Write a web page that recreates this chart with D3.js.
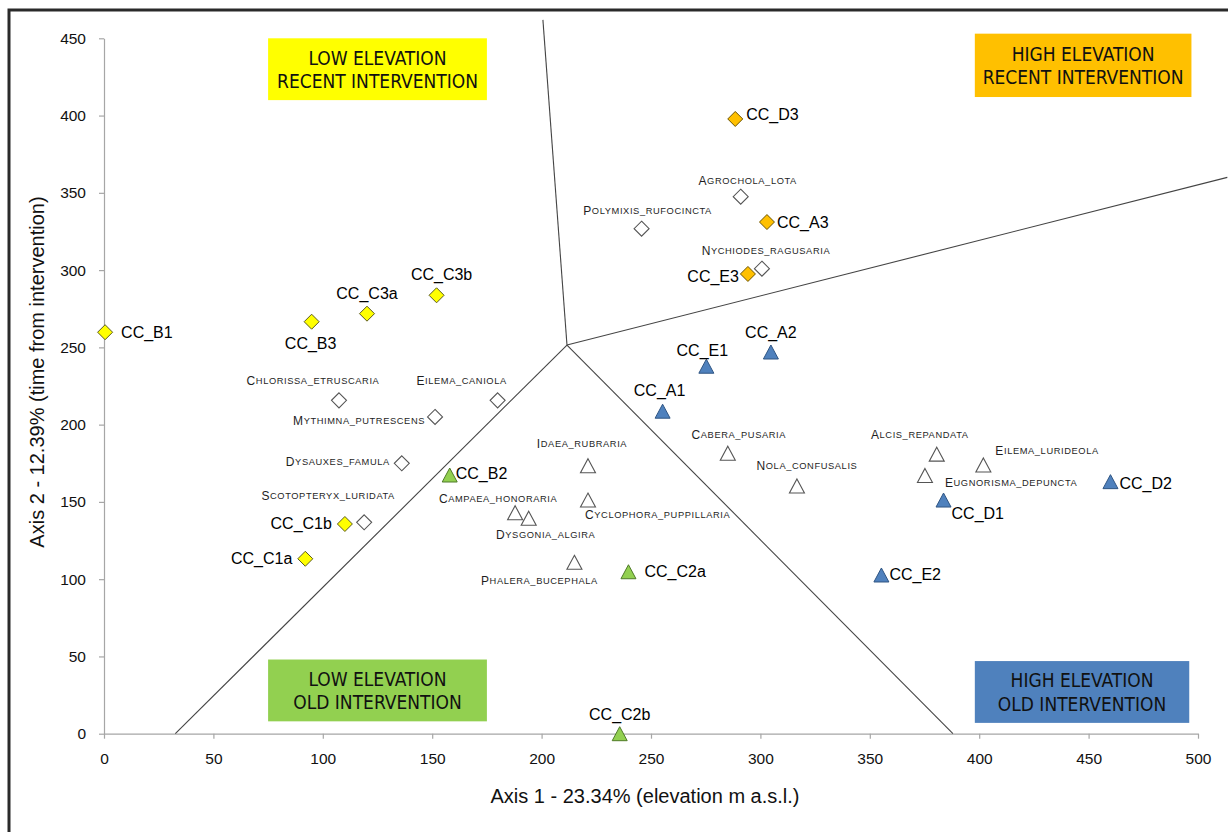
<!DOCTYPE html>
<html>
<head>
<meta charset="utf-8">
<script src="https://cdn.jsdelivr.net/npm/d3@7/dist/d3.min.js"></script>
<style>
  html, body { margin: 0; padding: 0; background: #fff; }
  svg { display: block; }
</style>
</head>
<body>
<svg id="chart" width="1228" height="832"></svg>
<script>
// ---- sampling sites (ordination scores) ----
const siteNames = ["CC_B1","CC_B3","CC_C3a","CC_C3b","CC_C1b","CC_C1a",
                   "CC_D3","CC_A3","CC_E3",
                   "CC_A2","CC_E1","CC_A1","CC_D1","CC_D2","CC_E2",
                   "CC_B2","CC_C2a","CC_C2b"];
const siteAxis1 = [0.5, 94.9, 120.2, 152.0, 110.1, 92.0,
                   288.5, 303.0, 294.3,
                   304.8, 275.3, 255.3, 383.7, 460.0, 355.3,
                   158.0, 239.7, 235.7];
const siteAxis2 = [259.8, 266.6, 271.8, 283.7, 135.7, 113.2,
                   397.8, 331.1, 297.5,
                   247.0, 237.8, 208.7, 151.2, 163.1, 102.7,
                   167.4, 104.8, 0];
const siteGroup = ["LR","LR","LR","LR","LR","LR",
                   "HR","HR","HR",
                   "HO","HO","HO","HO","HO","HO",
                   "LO","LO","LO"];

// ---- indicator species ----
const speciesNames = ["Chlorissa_etruscaria","Eilema_caniola","Mythimna_putrescens",
                      "Dysauxes_famula","Scotopteryx_luridata",
                      "Polymixis_rufocincta","Agrochola_lota","Nychiodes_ragusaria",
                      "Idaea_rubraria","Cyclophora_puppillaria","Campaea_honoraria",
                      "Dysgonia_algira","Phalera_bucephala",
                      "Cabera_pusaria","Nola_confusalis","Alcis_repandata",
                      "Eugnorisma_depuncta","Eilema_lurideola"];
const speciesAxis1 = [107.4, 179.9, 151.3, 136.1, 118.9,
                      245.7, 291.0, 300.7,
                      221.2, 221.2, 187.9, 194.1, 215.0,
                      285.1, 316.7, 380.6, 375.2, 401.9];
const speciesAxis2 = [215.7, 215.7, 205.0, 175.0, 136.8,
                      326.8, 347.5, 300.9,
                      173.4, 151.2, 143.0, 139.4, 110.9,
                      181.5, 160.3, 180.9, 167.1, 173.9];
const speciesShape = ["diamond","diamond","diamond","diamond","diamond",
                      "diamond","diamond","diamond",
                      "triangle","triangle","triangle","triangle","triangle",
                      "triangle","triangle","triangle","triangle","triangle"];

// ---- axis ticks ----
const xTicks = [0, 50, 100, 150, 200, 250, 300, 350, 400, 450, 500];
const yTicks = [0, 50, 100, 150, 200, 250, 300, 350, 400, 450];

// ---- group boundaries (ordination space) ----
const boundaryCentre = [211.6, 251.5];
const boundaryEnds = [[200.6, 461.9], [513.4, 360.0], [32.6, 0], [388.0, 0]];

// ---- group legends ----
const groupKeys = ["LR", "HR", "LO", "HO"];
const groupTitles = [["LOW ELEVATION", "RECENT INTERVENTION"],
                     ["HIGH ELEVATION", "RECENT INTERVENTION"],
                     ["LOW ELEVATION", "OLD INTERVENTION"],
                     ["HIGH ELEVATION", "OLD INTERVENTION"]];
const groupBoxX = [[75, 175], [398, 497], [75, 175], [398, 496]];
const groupBoxY = [[410, 450], [412, 453], [8, 48], [7, 47]];

// ---- styling ----
const groupFill   = { LR: "#FFFF00", HR: "#FFC000", LO: "#92D050", HO: "#4F81BD" };
const groupStroke = { LR: "#5a5a20", HR: "#6b5200", LO: "#4f7a28", HO: "#2f5583" };
const groupShape  = { LR: "diamond", HR: "diamond", LO: "triangle", HO: "triangle" };

// label placement: [dx, dy, anchor]
const siteLabelPos = {
  CC_B1: [16, 0, "start"], CC_B3: [-1, 22, "middle"], CC_C3a: [0, -20, "middle"],
  CC_C3b: [5, -21, "middle"], CC_C1b: [-13, 0, "end"], CC_C1a: [-13, 0, "end"],
  CC_D3: [11, -4, "start"], CC_A3: [10, 0, "start"], CC_E3: [-9, 3, "end"],
  CC_A2: [0, -20, "middle"], CC_E1: [-4, -16, "middle"], CC_A1: [-3, -21, "middle"],
  CC_D1: [8, 13, "start"], CC_D2: [9, 2, "start"], CC_E2: [8, 0, "start"],
  CC_B2: [6, -2, "start"], CC_C2a: [16, 0, "start"], CC_C2b: [0, -19, "middle"]
};
const speciesLabelPos = {
  Chlorissa_etruscaria: [-26, -19, "middle"], Eilema_caniola: [-36, -19, "middle"],
  Mythimna_putrescens: [-10, 4, "end"], Dysauxes_famula: [-12, -1, "end"],
  Scotopteryx_luridata: [-36, -26, "middle"], Polymixis_rufocincta: [6, -18, "middle"],
  Agrochola_lota: [7, -16, "middle"], Nychiodes_ragusaria: [4, -18, "middle"],
  Idaea_rubraria: [-6, -22, "middle"], Cyclophora_puppillaria: [-3, 15, "start"],
  Campaea_honoraria: [-17, -14, "middle"], Dysgonia_algira: [17, 17, "middle"],
  Phalera_bucephala: [-35, 19, "middle"], Cabera_pusaria: [11, -18, "middle"],
  Nola_confusalis: [10, -20, "middle"], Alcis_repandata: [-17, -19, "middle"],
  Eugnorisma_depuncta: [20, 8, "start"], Eilema_lurideola: [12, -14, "start"]
};

const svg = d3.select("#chart");
const W = 1228, H = 832;

const x = d3.scaleLinear().domain([0, 500]).range([104, 1198]);
const y = d3.scaleLinear().domain([0, 450]).range([733.7, 38.3]);

// outer frame (top and left edges)
svg.append("path")
  .attr("d", `M9,${H} L9,10 L${W},10`)
  .attr("fill", "none").attr("stroke", "#2a2a2a").attr("stroke-width", 3);

// axes
const axisFont = "Arial, 'Liberation Sans', sans-serif";
const gx = svg.append("g").attr("transform", `translate(0,${y(0)})`)
  .call(d3.axisBottom(x).tickValues(xTicks).tickSize(5).tickPadding(14).tickSizeOuter(0));
const gy = svg.append("g").attr("transform", `translate(${x(0)},0)`)
  .call(d3.axisLeft(y).tickValues(yTicks).tickSize(5).tickPadding(13).tickSizeOuter(0));
[gx, gy].forEach(g => {
  g.select(".domain").attr("stroke", "#a6a6a6").attr("stroke-width", 1.2);
  g.selectAll(".tick line").attr("stroke", "#a6a6a6").attr("stroke-width", 1.2);
  g.selectAll(".tick text").attr("fill", "#111").style("font-family", axisFont).style("font-size", "15.5px");
});

// axis titles
svg.append("text")
  .attr("x", 645).attr("y", 796).attr("text-anchor", "middle").attr("dominant-baseline", "central")
  .style("font-family", axisFont).style("font-size", "20px").attr("fill", "#111")
  .text("Axis 1 - 23.34% (elevation m a.s.l.)");
svg.append("text")
  .attr("transform", "translate(37,372) rotate(-90)")
  .attr("text-anchor", "middle").attr("dominant-baseline", "central")
  .style("font-family", axisFont).style("font-size", "20px").attr("fill", "#111")
  .text("Axis 2 - 12.39% (time from intervention)");

// group boundary lines
boundaryEnds.forEach(e => {
  svg.append("line")
    .attr("x1", x(boundaryCentre[0])).attr("y1", y(boundaryCentre[1]))
    .attr("x2", x(e[0])).attr("y2", y(e[1]))
    .attr("stroke", "#444").attr("stroke-width", 1.1);
});

// group legend boxes
const boxFont = "'Liberation Sans Narrow', 'Arial Narrow', 'DejaVu Sans Condensed', sans-serif";
groupKeys.forEach((k, i) => {
  const x0 = x(groupBoxX[i][0]), x1 = x(groupBoxX[i][1]);
  const y0 = y(groupBoxY[i][1]), y1 = y(groupBoxY[i][0]);
  svg.append("rect").attr("x", x0).attr("y", y0).attr("width", x1 - x0).attr("height", y1 - y0)
    .attr("fill", groupFill[k]);
  const cx = (x0 + x1) / 2, cy = (y0 + y1) / 2;
  groupTitles[i].forEach((line, j) => {
    svg.append("text")
      .attr("x", cx).attr("y", cy + (j === 0 ? -11.5 : 12))
      .attr("text-anchor", "middle").attr("dominant-baseline", "central")
      .style("font-family", boxFont).style("font-size", "19px").attr("fill", "#111")
      .text(line);
  });
});

// marker shapes
function markerPath(shape) {
  if (shape === "diamond") {
    const r = 7.5;
    return `M0,${-r} L${r},0 L0,${r} L${-r},0 Z`;
  }
  const w = 7.5, h = 7;
  return `M0,${-h} L${w},${h} L${-w},${h} Z`;
}

// species markers and small-caps labels
const speciesFont = "Arial, 'Liberation Sans', sans-serif";
speciesNames.forEach((name, i) => {
  const px = x(speciesAxis1[i]), py = y(speciesAxis2[i]);
  svg.append("path").attr("d", markerPath(speciesShape[i]))
    .attr("transform", `translate(${px},${py})`)
    .attr("fill", "#fff").attr("stroke", "#555").attr("stroke-width", 1.1);
  const [dx, dy, anchor] = speciesLabelPos[name];
  const t = svg.append("text")
    .attr("x", px + dx).attr("y", py + dy)
    .attr("text-anchor", anchor).attr("dominant-baseline", "central")
    .style("font-family", speciesFont).style("letter-spacing", "0.6px").attr("fill", "#1e1e1e");
  t.append("tspan").style("font-size", "12px").text(name[0].toUpperCase());
  t.append("tspan").style("font-size", "9.3px").text(name.slice(1).toUpperCase());
});

// site markers and labels
siteNames.forEach((name, i) => {
  const g = siteGroup[i];
  const px = x(siteAxis1[i]), py = y(siteAxis2[i]);
  svg.append("path").attr("d", markerPath(groupShape[g]))
    .attr("transform", `translate(${px},${py})`)
    .attr("fill", groupFill[g]).attr("stroke", groupStroke[g]).attr("stroke-width", 1);
  const [dx, dy, anchor] = siteLabelPos[name];
  svg.append("text")
    .attr("x", px + dx).attr("y", py + dy)
    .attr("text-anchor", anchor).attr("dominant-baseline", "central")
    .style("font-family", axisFont).style("font-size", "16px").attr("fill", "#000")
    .text(name);
});
</script>
</body>
</html>
